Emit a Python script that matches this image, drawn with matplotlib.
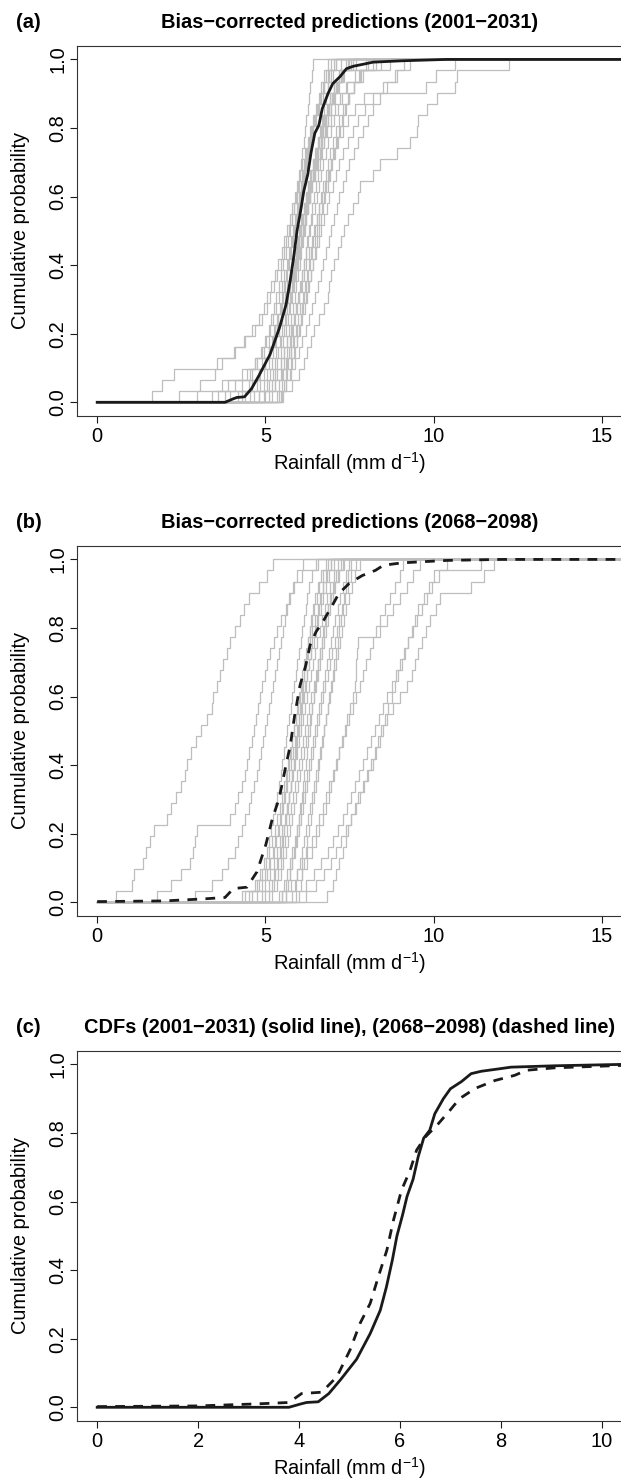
import numpy as np
import matplotlib
matplotlib.use("Agg")
import matplotlib.pyplot as plt

plt.rcParams["font.family"] = ["Liberation Sans", "DejaVu Sans"]
plt.rcParams["mathtext.fontset"] = "custom"
plt.rcParams["mathtext.rm"] = "Liberation Sans"
plt.rcParams["mathtext.default"] = "regular"

# --- pooled CDFs (black curves) ---
cdf_early_x = [0.0, 3.80, 4.04, 4.15, 4.38, 4.59, 4.82, 4.98, 5.14, 5.41, 5.61, 5.73, 5.85, 5.94,
               6.05, 6.14, 6.26, 6.36, 6.47, 6.59, 6.69, 6.86, 7.00, 7.22, 7.41, 7.61, 7.96, 8.20,
               9.06, 10.38]
cdf_early_y = [0.0, 0.0, 0.010, 0.014, 0.016, 0.040, 0.080, 0.110, 0.140, 0.215, 0.283, 0.350,
               0.430, 0.500, 0.560, 0.615, 0.665, 0.730, 0.785, 0.808, 0.856, 0.900, 0.929, 0.950,
               0.973, 0.980, 0.987, 0.992, 0.996, 1.0]
cdf_late_x = [0.0, 2.0, 3.18, 3.80, 4.05, 4.45, 4.75, 5.01, 5.21, 5.41, 5.57, 5.74, 5.87, 6.03,
              6.20, 6.33, 6.50, 6.73, 6.99, 7.18, 7.49, 7.88, 8.27, 8.51, 9.06, 10.38, 12.0]
cdf_late_y = [0.002, 0.004, 0.010, 0.014, 0.040, 0.044, 0.089, 0.167, 0.245, 0.303, 0.380, 0.458,
              0.545, 0.633, 0.691, 0.750, 0.788, 0.822, 0.866, 0.900, 0.930, 0.953, 0.968, 0.983,
              0.990, 0.997, 1.0]

# --- bias-corrected model runs, 2001-2031 (sorted annual means, mm/d) ---
early_01 = [1.62, 1.92, 2.27, 3.55, 4.06, 4.40, 4.70, 4.90, 5.05, 5.15, 5.25, 5.35, 5.45, 5.55, 5.62, 5.70,
            5.78, 5.85, 5.93, 6.00, 6.08, 6.15, 6.22, 6.30, 6.40, 6.50, 6.60, 6.72, 6.85, 7.00, 7.25]
early_02 = [2.42, 3.06, 3.50, 3.70, 4.10, 4.35, 4.60, 4.80, 4.95, 5.05, 5.18, 5.28, 5.38, 5.48, 5.56, 5.64,
            5.72, 5.80, 5.88, 5.95, 6.02, 6.10, 6.18, 6.26, 6.34, 6.42, 6.52, 6.62, 6.75, 6.90, 7.10]
early_03 = [5.53, 5.80, 6.00, 6.15, 6.25, 6.35, 6.45, 6.60, 6.75, 6.85, 6.90, 6.95, 7.05, 7.15, 7.25, 7.35,
            7.45, 7.60, 7.75, 7.80, 8.20, 8.40, 8.90, 9.30, 9.50, 9.55, 9.80, 10.10, 10.65, 10.70, 12.24]
early_04 = [4.80, 5.10, 5.30, 5.45, 5.55, 5.65, 5.75, 5.85, 5.92, 6.00, 6.08, 6.15, 6.22, 6.30, 6.38, 6.45,
            6.52, 6.60, 6.68, 6.76, 6.85, 6.95, 7.05, 7.15, 7.30, 7.45, 7.65, 7.94, 9.76, 10.06, 10.65]
early_05 = [5.00, 5.30, 5.50, 5.65, 5.75, 5.85, 5.95, 6.05, 6.12, 6.20, 6.28, 6.35, 6.42, 6.50, 6.58, 6.66,
            6.74, 6.82, 6.90, 7.00, 7.10, 7.20, 7.32, 7.45, 7.60, 7.75, 7.95, 8.20, 8.50, 8.90, 9.12]
early_06 = [4.55, 4.85, 5.05, 5.20, 5.32, 5.42, 5.50, 5.58, 5.65, 5.72, 5.80, 5.86, 5.92, 5.98, 6.05, 6.12,
            6.18, 6.25, 6.32, 6.40, 6.48, 6.56, 6.65, 6.74, 6.84, 6.95, 7.08, 7.22, 7.40, 7.90, 8.70]
early_07 = [3.95, 4.30, 4.55, 4.75, 4.90, 5.00, 5.10, 5.18, 5.26, 5.33, 5.40, 5.47, 5.53, 5.60, 5.66, 5.72,
            5.78, 5.84, 5.90, 5.96, 6.01, 6.06, 6.10, 6.14, 6.18, 6.22, 6.26, 6.30, 6.34, 6.38, 6.42]
early_08 = [4.20, 4.60, 4.85, 5.00, 5.12, 5.22, 5.30, 5.38, 5.45, 5.52, 5.58, 5.64, 5.70, 5.76, 5.82, 5.88,
            5.94, 6.00, 6.06, 6.12, 6.18, 6.24, 6.30, 6.36, 6.42, 6.48, 6.55, 6.62, 6.70, 6.80, 6.95]
early_09 = [4.80, 5.05, 5.22, 5.35, 5.45, 5.53, 5.60, 5.67, 5.73, 5.79, 5.85, 5.91, 5.97, 6.03, 6.09, 6.15,
            6.21, 6.27, 6.33, 6.40, 6.47, 6.54, 6.61, 6.69, 6.77, 6.86, 6.95, 7.06, 7.18, 7.35, 7.60]
early_10 = [3.60, 4.10, 4.60, 4.90, 5.10, 5.25, 5.35, 5.45, 5.55, 5.62, 5.70, 5.77, 5.84, 5.90, 5.96, 6.02,
            6.08, 6.14, 6.20, 6.27, 6.34, 6.41, 6.48, 6.56, 6.64, 6.72, 6.82, 6.92, 7.05, 7.20, 7.45]
early_11 = [5.50, 5.62, 5.72, 5.80, 5.87, 5.93, 5.99, 6.05, 6.10, 6.15, 6.20, 6.26, 6.31, 6.37, 6.42, 6.48,
            6.54, 6.60, 6.66, 6.72, 6.79, 6.86, 6.93, 7.01, 7.10, 7.20, 7.32, 7.46, 7.62, 7.85, 8.30]
early_12 = [4.40, 4.75, 4.95, 5.10, 5.22, 5.32, 5.41, 5.49, 5.57, 5.64, 5.71, 5.78, 5.85, 5.92, 5.99, 6.06,
            6.13, 6.20, 6.27, 6.34, 6.41, 6.48, 6.56, 6.64, 6.72, 6.81, 6.90, 7.00, 7.12, 7.28, 7.50]
early_13 = [5.20, 5.40, 5.52, 5.62, 5.70, 5.77, 5.83, 5.89, 5.95, 6.00, 6.05, 6.10, 6.15, 6.20, 6.25, 6.30,
            6.35, 6.40, 6.45, 6.50, 6.56, 6.62, 6.68, 6.74, 6.80, 6.87, 6.95, 7.04, 7.15, 7.30, 7.55]
early_14 = [3.80, 4.50, 4.80, 4.98, 5.10, 5.20, 5.28, 5.35, 5.42, 5.48, 5.54, 5.60, 5.66, 5.72, 5.78, 5.84,
            5.90, 5.96, 6.02, 6.08, 6.14, 6.20, 6.27, 6.34, 6.41, 6.48, 6.56, 6.64, 6.74, 6.86, 7.05]
early_15 = [5.45, 5.55, 5.65, 5.75, 5.85, 5.95, 6.03, 6.10, 6.17, 6.24, 6.30, 6.36, 6.42, 6.48, 6.54, 6.60,
            6.66, 6.72, 6.78, 6.85, 6.92, 6.99, 7.06, 7.14, 7.22, 7.31, 7.40, 7.50, 7.62, 7.78, 8.05]
early_16 = [4.65, 4.95, 5.15, 5.28, 5.38, 5.47, 5.55, 5.62, 5.69, 5.76, 5.82, 5.88, 5.94, 6.00, 6.06, 6.12,
            6.18, 6.24, 6.30, 6.36, 6.43, 6.50, 6.57, 6.64, 6.72, 6.80, 6.89, 6.98, 7.10, 7.25, 8.00]
early_17 = [2.96, 3.90, 4.45, 4.70, 4.88, 5.02, 5.14, 5.24, 5.33, 5.41, 5.49, 5.56, 5.63, 5.70, 5.76, 5.82,
            5.88, 5.94, 6.00, 6.06, 6.12, 6.18, 6.24, 6.30, 6.37, 6.44, 6.51, 6.58, 6.66, 6.75, 6.85]
early_18 = [5.35, 5.50, 5.60, 5.68, 5.76, 5.83, 5.90, 5.97, 6.04, 6.11, 6.18, 6.25, 6.32, 6.39, 6.46, 6.53,
            6.60, 6.67, 6.74, 6.81, 6.88, 6.95, 7.02, 7.10, 7.18, 7.27, 7.37, 7.48, 7.62, 7.80, 8.45]
early_19 = [4.95, 5.20, 5.35, 5.46, 5.55, 5.63, 5.70, 5.76, 5.82, 5.87, 5.92, 5.97, 6.02, 6.07, 6.12, 6.17,
            6.22, 6.27, 6.32, 6.37, 6.42, 6.47, 6.52, 6.57, 6.62, 6.68, 6.74, 6.80, 6.87, 6.95, 7.10]
early_20 = [3.40, 3.70, 4.30, 4.70, 4.95, 5.12, 5.26, 5.38, 5.48, 5.57, 5.65, 5.72, 5.79, 5.86, 5.93, 6.00,
            6.07, 6.14, 6.21, 6.28, 6.35, 6.42, 6.50, 6.58, 6.66, 6.74, 6.83, 6.93, 7.05, 7.20, 7.40]
early_21 = [5.10, 5.30, 5.45, 5.56, 5.65, 5.73, 5.80, 5.86, 5.92, 5.98, 6.04, 6.10, 6.16, 6.22, 6.28, 6.34,
            6.40, 6.46, 6.52, 6.58, 6.65, 6.72, 6.79, 6.87, 6.95, 7.05, 7.15, 7.28, 7.42, 7.65, 8.20]
early_22 = [4.30, 4.60, 4.82, 5.00, 5.15, 5.28, 5.40, 5.50, 5.59, 5.67, 5.74, 5.81, 5.88, 5.94, 6.00, 6.06,
            6.12, 6.18, 6.24, 6.30, 6.37, 6.44, 6.51, 6.59, 6.67, 6.76, 6.86, 6.97, 7.10, 7.28, 7.70]
early_23 = [5.40, 5.60, 5.75, 5.88, 6.00, 6.10, 6.20, 6.30, 6.40, 6.48, 6.56, 6.64, 6.72, 6.80, 6.88, 6.96,
            7.04, 7.12, 7.20, 7.30, 7.40, 7.50, 7.62, 7.75, 7.90, 8.05, 8.20, 8.40, 8.60, 8.85, 9.30]

# --- bias-corrected model runs, 2068-2098 ---
late_01 = [0.55, 1.03, 1.10, 1.37, 1.45, 1.57, 1.70, 2.07, 2.20, 2.35, 2.50, 2.60, 2.66, 2.80, 2.95, 3.10,
           3.25, 3.40, 3.45, 3.55, 3.65, 3.75, 3.85, 3.95, 4.10, 4.25, 4.35, 4.50, 4.80, 5.05, 5.24]
late_02 = [1.77, 2.20, 2.50, 2.75, 2.85, 2.92, 2.96, 3.95, 4.10, 4.20, 4.30, 4.38, 4.45, 4.52, 4.60, 4.66,
           4.72, 4.78, 4.84, 4.90, 4.98, 5.06, 5.15, 5.25, 5.35, 5.47, 5.60, 5.70, 5.82, 5.95, 6.12]
late_03 = [2.90, 3.40, 3.70, 3.90, 4.10, 4.20, 4.30, 4.40, 4.50, 4.58, 4.66, 4.74, 4.80, 4.86, 4.92, 4.98,
           5.04, 5.10, 5.16, 5.22, 5.28, 5.34, 5.40, 5.46, 5.52, 5.58, 5.64, 5.72, 5.85, 6.10, 6.50]
late_04 = [4.40, 4.70, 4.85, 4.95, 5.05, 5.12, 5.18, 5.24, 5.30, 5.35, 5.40, 5.45, 5.50, 5.55, 5.60, 5.65,
           5.70, 5.75, 5.80, 5.85, 5.90, 5.95, 6.00, 6.05, 6.10, 6.15, 6.20, 6.25, 6.30, 6.40, 6.55]
late_05 = [4.90, 5.10, 5.25, 5.35, 5.42, 5.48, 5.54, 5.60, 5.65, 5.70, 5.75, 5.80, 5.85, 5.90, 5.95, 6.00,
           6.05, 6.10, 6.15, 6.20, 6.25, 6.30, 6.35, 6.40, 6.46, 6.52, 6.58, 6.65, 6.72, 6.80, 6.95]
late_06 = [5.60, 5.68, 5.74, 5.80, 5.85, 5.90, 5.95, 6.00, 6.04, 6.08, 6.12, 6.16, 6.20, 6.24, 6.28, 6.32,
           6.36, 6.40, 6.44, 6.48, 6.52, 6.57, 6.62, 6.67, 6.72, 6.78, 6.85, 6.92, 7.00, 7.10, 7.25]
late_07 = [4.60, 4.90, 5.05, 5.15, 5.25, 5.33, 5.40, 5.47, 5.53, 5.59, 5.65, 5.71, 5.77, 5.83, 5.89, 5.95,
           6.01, 6.07, 6.13, 6.19, 6.25, 6.31, 6.37, 6.43, 6.50, 6.57, 6.64, 6.72, 6.80, 6.90, 7.05]
late_08 = [5.00, 5.20, 5.30, 5.38, 5.45, 5.51, 5.56, 5.61, 5.66, 5.71, 5.76, 5.80, 5.84, 5.88, 5.92, 5.96,
           6.00, 6.04, 6.08, 6.12, 6.16, 6.20, 6.24, 6.28, 6.32, 6.37, 6.42, 6.48, 6.55, 6.65, 6.80]
late_09 = [5.40, 5.55, 5.65, 5.73, 5.80, 5.87, 5.93, 5.99, 6.05, 6.11, 6.17, 6.23, 6.29, 6.35, 6.41, 6.47,
           6.53, 6.59, 6.65, 6.71, 6.77, 6.83, 6.89, 6.95, 7.01, 7.08, 7.15, 7.22, 7.30, 7.40, 7.55]
late_10 = [4.30, 4.80, 5.00, 5.12, 5.22, 5.30, 5.37, 5.43, 5.49, 5.55, 5.60, 5.65, 5.70, 5.75, 5.80, 5.85,
           5.90, 5.95, 6.00, 6.05, 6.10, 6.15, 6.20, 6.26, 6.32, 6.38, 6.45, 6.52, 6.60, 6.70, 6.85]
late_11 = [6.00, 6.05, 6.10, 6.15, 6.20, 6.25, 6.30, 6.35, 6.40, 6.45, 6.50, 6.55, 6.60, 6.65, 6.70, 6.75,
           6.80, 6.85, 6.90, 6.95, 7.00, 7.05, 7.10, 7.15, 7.20, 7.25, 7.30, 7.35, 7.40, 7.45, 7.50]
late_12 = [5.20, 5.35, 5.45, 5.53, 5.60, 5.66, 5.72, 5.78, 5.84, 5.90, 5.96, 6.02, 6.08, 6.14, 6.20, 6.26,
           6.32, 6.38, 6.44, 6.50, 6.56, 6.62, 6.68, 6.74, 6.80, 6.86, 6.93, 7.00, 7.08, 7.18, 7.35]
late_13 = [4.75, 5.00, 5.15, 5.26, 5.35, 5.43, 5.50, 5.57, 5.63, 5.69, 5.75, 5.81, 5.87, 5.93, 5.99, 6.05,
           6.11, 6.17, 6.23, 6.29, 6.35, 6.41, 6.47, 6.54, 6.61, 6.68, 6.76, 6.84, 6.93, 7.03, 7.15]
late_14 = [5.50, 5.62, 5.72, 5.80, 5.87, 5.94, 6.00, 6.06, 6.12, 6.18, 6.24, 6.30, 6.36, 6.42, 6.48, 6.54,
           6.60, 6.66, 6.72, 6.78, 6.85, 6.92, 6.99, 7.06, 7.13, 7.20, 7.28, 7.36, 7.45, 7.55, 7.70]
late_15 = [4.50, 4.75, 4.90, 5.02, 5.12, 5.20, 5.28, 5.35, 5.42, 5.48, 5.54, 5.60, 5.66, 5.72, 5.78, 5.84,
           5.90, 5.96, 6.02, 6.08, 6.14, 6.20, 6.26, 6.33, 6.40, 6.47, 6.55, 6.63, 6.72, 6.82, 6.95]
late_16 = [5.80, 5.88, 5.95, 6.02, 6.08, 6.14, 6.20, 6.26, 6.32, 6.38, 6.44, 6.50, 6.56, 6.62, 6.68, 6.74,
           6.80, 6.86, 6.92, 6.98, 7.04, 7.10, 7.16, 7.22, 7.28, 7.34, 7.40, 7.48, 7.56, 7.65, 7.80]
late_17 = [5.10, 5.25, 5.36, 5.45, 5.52, 5.59, 5.65, 5.71, 5.77, 5.83, 5.89, 5.95, 6.01, 6.07, 6.13, 6.19,
           6.25, 6.31, 6.37, 6.43, 6.49, 6.55, 6.61, 6.67, 6.73, 6.80, 6.87, 6.95, 7.04, 7.15, 7.30]
late_18 = [6.82, 7.00, 7.10, 7.20, 7.30, 7.40, 7.47, 7.55, 7.65, 7.76, 7.90, 8.05, 8.20, 8.30, 8.40, 8.50,
           8.60, 8.80, 9.00, 9.20, 9.35, 9.45, 9.55, 9.65, 9.76, 9.90, 10.06, 10.20, 11.10, 11.50, 11.80]
late_19 = [6.20, 6.50, 6.75, 6.95, 7.10, 7.25, 7.40, 7.55, 7.68, 7.80, 7.92, 8.03, 8.14, 8.25, 8.35, 8.45,
           8.55, 8.65, 8.75, 8.85, 8.95, 9.05, 9.15, 9.25, 9.35, 9.45, 9.55, 9.70, 9.85, 10.00, 11.40]
late_20 = [5.90, 6.20, 6.45, 6.65, 6.85, 7.00, 7.15, 7.30, 7.42, 7.54, 7.66, 7.78, 7.90, 8.02, 8.14, 8.26,
           8.38, 8.50, 8.62, 8.75, 8.88, 9.00, 9.12, 9.25, 9.38, 9.52, 9.66, 9.80, 9.95, 10.15, 10.40]
late_21 = [5.60, 5.90, 6.10, 6.25, 6.38, 6.50, 6.60, 6.70, 6.80, 6.88, 6.96, 7.04, 7.12, 7.20, 7.28, 7.36,
           7.44, 7.52, 7.60, 7.65, 7.68, 7.70, 7.72, 7.75, 8.41, 8.60, 8.80, 9.00, 9.20, 9.40, 9.60]
late_22 = [5.50, 5.75, 5.95, 6.10, 6.25, 6.38, 6.50, 6.60, 6.70, 6.80, 6.90, 7.00, 7.10, 7.20, 7.30, 7.40,
           7.50, 7.60, 7.70, 7.80, 7.90, 8.00, 8.10, 8.20, 8.30, 8.42, 8.55, 8.70, 8.85, 9.00, 9.10]

early_runs = [early_01, early_02, early_03, early_04, early_05, early_06, early_07, early_08,
              early_09, early_10, early_11, early_12, early_13, early_14, early_15, early_16,
              early_17, early_18, early_19, early_20, early_21, early_22, early_23]
late_runs = [late_01, late_02, late_03, late_04, late_05, late_06, late_07, late_08, late_09,
             late_10, late_11, late_12, late_13, late_14, late_15, late_16, late_17, late_18,
             late_19, late_20, late_21, late_22]

prob_ticks = [0.0, 0.2, 0.4, 0.6, 0.8, 1.0]
rain_ticks_wide = [0, 5, 10, 15]
rain_ticks_narrow = [0, 2, 4, 6, 8, 10]

W, H = 621, 1480
FS = 14.4
GREY = "#bebebe"
INK = "#1a1a1a"

fig = plt.figure(figsize=(W / 100, H / 100), dpi=100)


def axes_px(top, left=77.0, right=622.0, height=370.3):
    return fig.add_axes([left / W, 1 - (top + height) / H, (right - left) / W, height / H])


def ecdf_steps(ax, vals, x_end, **kw):
    v = np.sort(np.asarray(vals, dtype=float))
    n = len(v)
    xs = np.concatenate([[0.0], v, [x_end]])
    ys = np.concatenate([[0.0], np.arange(1, n + 1) / n, [1.0]])
    ax.step(xs, ys, where="post", **kw)


def style(ax, xmax, xticks):
    ax.set_xlim(-0.04 * xmax, 1.04 * xmax)
    ax.set_ylim(-0.04, 1.04)
    ax.set_xticks(xticks)
    ax.set_xticklabels([str(t) for t in xticks])
    ax.set_yticks(prob_ticks)
    ax.set_yticklabels([f"{t:.1f}" for t in prob_ticks], rotation=90, va="center")
    ax.tick_params(direction="out", length=5, width=0.8, labelsize=FS, color=INK)
    ax.tick_params(axis="x", pad=3.2)
    ax.tick_params(axis="y", pad=2.0)
    for s in ax.spines.values():
        s.set_linewidth(0.8)
        s.set_color("#333333")


def labels(top, letter, title, height=370.3):
    base = top - 17.4
    fig.text(16 / W, 1 - base / H, letter, fontsize=FS, fontweight="bold", ha="left", va="baseline")
    fig.text(349.6 / W, 1 - base / H, title, fontsize=FS, fontweight="bold", ha="center", va="baseline")
    fig.text(21 / W, 1 - (top + height / 2) / H, "Cumulative probability", fontsize=FS,
             rotation=90, ha="center", va="center")
    fig.text(349.6 / W, 1 - (top + height + 47.3) / H, r"Rainfall (mm d$^{\mathregular{-1}}$)",
             fontsize=FS, ha="center", va="center")


# (a)
top_a = 45.7
ax = axes_px(top_a)
style(ax, 15, rain_ticks_wide)
for run in early_runs:
    ecdf_steps(ax, run, 15.6, color=GREY, lw=0.9, zorder=2)
ax.plot(cdf_early_x + [15.6], cdf_early_y + [1.0], color=INK, lw=2.0, zorder=3)
labels(top_a, "(a)", "Bias\u2212corrected predictions (2001\u22122031)")

# (b)
top_b = 545.7
ax = axes_px(top_b)
style(ax, 15, rain_ticks_wide)
for run in late_runs:
    ecdf_steps(ax, run, 15.6, color=GREY, lw=0.9, zorder=2)
ax.plot(cdf_late_x + [15.6], cdf_late_y + [1.0], color=INK, lw=2.0,
        linestyle=(0, (3.5, 3)), zorder=3)
labels(top_b, "(b)", "Bias\u2212corrected predictions (2068\u22122098)")

# (c)
top_c = 1050.7
ax = axes_px(top_c)
style(ax, 10, rain_ticks_narrow)
ax.plot(cdf_early_x + [10.4], cdf_early_y + [1.0], color=INK, lw=2.0, zorder=3)
ax.plot(cdf_late_x + [10.4], cdf_late_y + [1.0], color=INK, lw=2.0,
        linestyle=(0, (3.5, 3)), zorder=3)
labels(top_c, "(c)", "CDFs (2001\u22122031) (solid line), (2068\u22122098) (dashed line)")

fig.savefig("out.png", dpi=100)
